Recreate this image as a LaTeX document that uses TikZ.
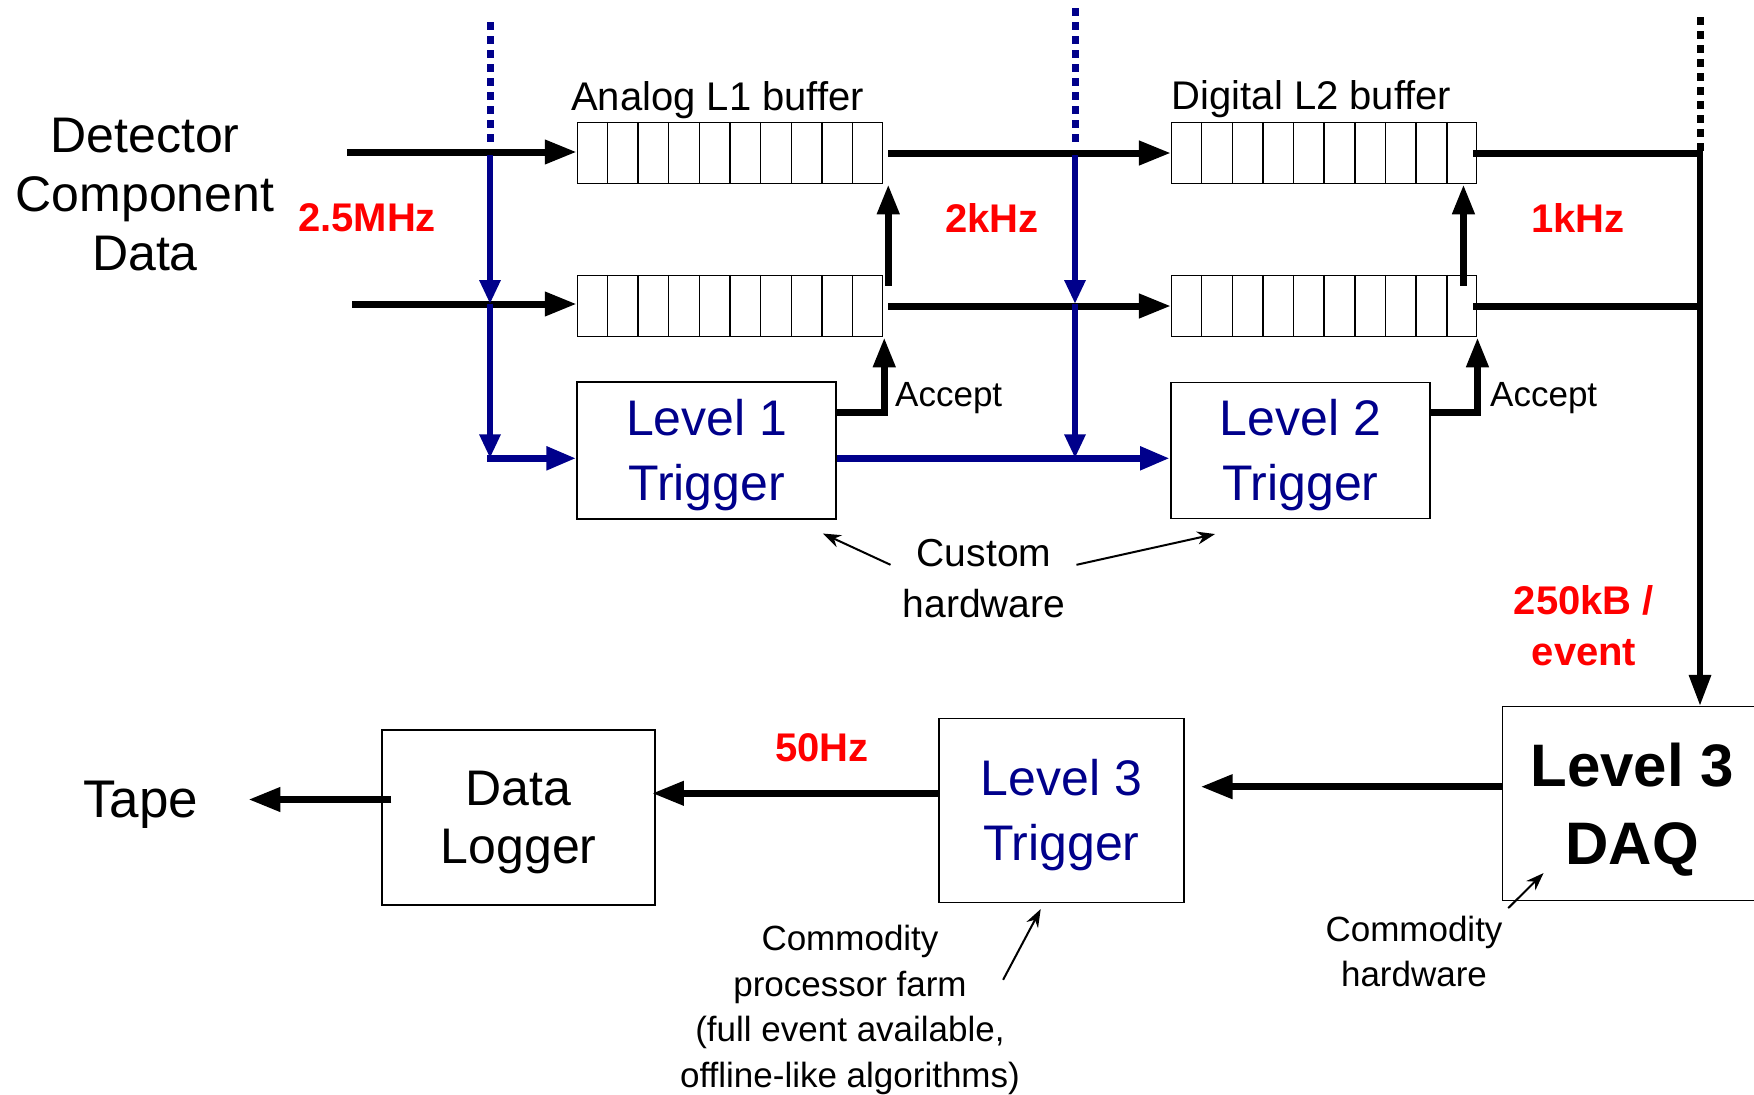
\documentclass[tikz,border=0pt]{standalone}
\usepackage{fontspec}
\setmainfont{Liberation Sans}
\usepackage{xcolor}
\usepackage{tikz}
\usetikzlibrary{positioning, arrows.meta, calc}

\definecolor{trignavy}{RGB}{0,0,139}
\definecolor{ratered}{RGB}{255,0,0}

\begin{document}
\begin{tikzpicture}[x=1pt, y=-1pt,
    every node/.append style={inner sep=0pt},
    buffer/.style={draw, line width=1.5pt, minimum width=305pt, minimum height=61pt},
    trigbox/.style={draw, line width=1.5pt, align=center, text depth=0pt},
    flow/.style={line width=7pt, -{Triangle[length=32pt,width=23pt]}},
    accept/.style={line width=7pt, -{Triangle[length=30pt,width=21pt]}},
    bus/.style={line width=7pt},
    trigline/.style={draw=trignavy, line width=6pt, -{Triangle[length=24pt,width=20pt]}},
    trigfat/.style={draw=trignavy, line width=7.5pt, -{Triangle[length=30pt,width=22pt]}},
    trigdash/.style={draw=trignavy, line width=7pt, dash pattern=on 8pt off 6pt},
    note/.style={line width=2pt, -{Stealth[length=18pt,width=13pt]}},
    rate/.style={text=ratered, align=center, font=\bfseries\fontsize{40}{51}\selectfont},
    lab/.style={anchor=base west, font=\fontsize{40}{48}\selectfont}
    ]
    \fill[white] (0,0) rectangle (1754,1095);
    \useasboundingbox (0,0) rectangle (1754,1095);

    \node[align=center, font=\fontsize{50}{59}\selectfont] (det) at (145,195) {Detector\\Component\\Data};

    \node[buffer] (bufA) at (730,153) {};
    \node[buffer] (bufB) at (730,306) {};
    \node[buffer] (bufC) at (1324.2,153) {};
    \node[buffer] (bufD) at (1324.2,306) {};
    \foreach \b in {bufA,bufB,bufC,bufD}
        \foreach \i in {1,...,9}
            \draw[line width=1.5pt] ($(\b.north west)!\i/10!(\b.north east)$) -- ($(\b.south west)!\i/10!(\b.south east)$);
    \node[lab] (labA) at (571,110) {Analog L1 buffer};
    \node[lab] (labC) at (1171.7,109) {Digital L2 buffer};

    \node[trigbox, minimum width=259pt, minimum height=137pt, text=trignavy, font=\fontsize{50}{65}\selectfont] (trigA) at (706.7,450.3) {Level 1\\Trigger};
    \node[trigbox, minimum width=259pt, minimum height=136pt, text=trignavy, font=\fontsize{50}{65}\selectfont] (trigB) at (1300.3,450.3) {Level 2\\Trigger};
    \node[trigbox, minimum width=245pt, minimum height=184pt, text=trignavy, font=\fontsize{50}{65}\selectfont] (trigC) at (1061.3,810.3) {Level 3\\Trigger};
    \node[trigbox, minimum width=273pt, minimum height=175pt, font=\fontsize{50}{58}\selectfont] (logger) at (518.7,817.5) {Data\\Logger};
    \node[trigbox, minimum width=260pt, minimum height=194pt, font=\bfseries\fontsize{60}{78}\selectfont] (daq) at (1632.3,803.7) {Level 3\\DAQ};
    \node[anchor=base west, font=\fontsize{53}{60}\selectfont] (tape) at (83,817.3) {Tape};

    \coordinate (inA) at (347,152);
    \coordinate (inB) at (352,304);
    \draw[flow] (inA) -- (inA -| bufA.west);
    \draw[flow] (inB) -- (inB -| bufB.west);
    \draw[flow, shorten <=5pt] (bufA.east) -- (bufC.west);
    \draw[flow, shorten <=5pt] (bufB.east) -- (bufD.west);

    \coordinate (busA) at (1700,153);
    \coordinate (busTop) at (1700,17);
    \draw[bus] ([xshift=-4pt]bufC.east) -- (busA);
    \draw[bus] ([xshift=-4pt]bufD.east) -- (busA |- bufD.east);
    \draw[line width=7pt, dash pattern=on 8pt off 6pt] (busTop) -- (busA);
    \draw[line width=6pt, -{Triangle[length=31pt,width=21pt]}] ([yshift=3pt]busA) -- (busA |- daq.north);

    \draw[accept] ([shift={(5,11)}]bufB.north east) -- ([xshift=5pt]bufA.south east);
    \draw[accept] ([shift={(-14,11)}]bufD.north east) -- ([xshift=-14pt]bufC.south east);
    \draw[accept] ([yshift=38pt]trigA.east) -| ([xshift=1pt]bufB.south east);
    \draw[accept] ([yshift=38pt]trigB.east) -| (bufD.south east);
    \node[lab, font=\fontsize{35}{40}\selectfont] (accA) at (895,406.7) {Accept};
    \node[lab, font=\fontsize{35}{40}\selectfont] (accB) at (1490,406.7) {Accept};

    \coordinate (dotA) at (490,22);
    \coordinate (dotB) at (1075,8);
    \coordinate (hitA) at ([yshift=-8pt]trigA.west);
    \coordinate (hitB) at ([yshift=-8pt]trigA.east);
    \coordinate (bendA) at (hitA -| dotA);
    \draw[trigdash] (dotA) -- ([yshift=6pt]dotA |- inA);
    \draw[trigline] ([yshift=-3pt]dotA |- inA) -- (dotA |- inB);
    \draw[trigline] (dotA |- inB) -- (bendA);
    \draw[trigfat] ([xshift=-3pt]bendA) -- (hitA);
    \draw[trigdash] (dotB) -- ([yshift=6pt]dotB |- inA);
    \draw[trigline] ([yshift=-3pt]dotB |- inA) -- (dotB |- inB);
    \draw[trigline] (dotB |- inB) -- (dotB |- hitB);
    \draw[trigfat] (hitB) -- (hitB -| trigB.west);

    \node[align=center, font=\fontsize{39}{51}\selectfont] (custom) at (984,578.8) {Custom\\hardware};
    \draw[note] ([shift={(-12,-14)}]custom.west) -- ([shift={(-14,14)}]trigA.south east);
    \draw[note] ([shift={(11,-14)}]custom.east) -- ([shift={(45,15)}]trigB.south west);

    \coordinate (daqOut) at ([yshift=17pt]daq.west);
    \coordinate (trigOut) at ([yshift=17pt]trigC.west);
    \coordinate (logOut) at ([shift={(10,-18)}]logger.west);
    \draw[flow, shorten >=16pt] (daqOut) -- (daqOut -| trigC.east);
    \draw[flow, shorten >=-4pt] (trigOut) -- (trigOut -| logger.east);
    \draw[flow, shorten >=50pt] (logOut) -- (logOut -| tape.east);

    \node[rate, anchor=base] (rateA) at (367,231.7) {2.5MHz};
    \node[rate, anchor=base] (rateB) at (991.7,232) {2kHz};
    \node[rate, anchor=base] (rateC) at (1578,232) {1kHz};
    \node[rate] (rateD) at (1584,625.4) {250kB /\\event};
    \node[rate, anchor=base] (rateE) at (822,761.7) {50Hz};

    \node[align=center, font=\fontsize{35}{45.7}\selectfont] (farm) at (850,1009.8) {Commodity\\processor farm\\(full event available,\\offline-like algorithms)};
    \draw[note] ([shift={(-17,-30)}]farm.east) -- ([shift={(-20.6,6)}]trigC.south);
    \node[align=center, font=\fontsize{35}{45}\selectfont] (cheap) at (1414,951.7) {Commodity\\hardware};
    \draw[note] ([shift={(6.7,6.6)}]daq.south west) -- ([shift={(42,-28.4)}]daq.south west);
\end{tikzpicture}
\end{document}
